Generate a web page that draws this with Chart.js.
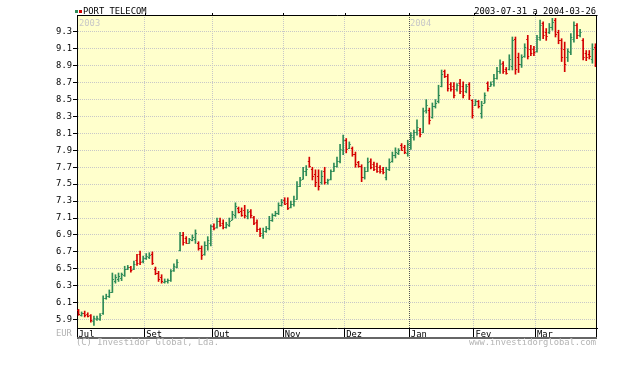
<!DOCTYPE html>
<html lang="pt">
<head>
<meta charset="utf-8">
<title>PORT TELECOM</title>
<script src="https://cdn.jsdelivr.net/npm/chart.js@4.4.1/dist/chart.umd.min.js"></script>
<style>
  html, body { margin: 0; padding: 0; background: #fff; }
  #wrap { position: relative; width: 626px; height: 377px; overflow: hidden; }
  #chart { position: absolute; left: 0; top: 0; }
  .txt { position: absolute; font-family: "DejaVu Sans Mono", monospace; font-size: 8.8px; line-height: 10px; white-space: nowrap; color: #000; }
  .grey { color: #b4b4b4; }
  .year { color: #c8c8c8; }
  .sq { position: absolute; width: 3px; height: 3px; }
</style>
</head>
<body>
<div id="wrap">
  <canvas id="chart" width="626" height="377"></canvas>
  <span class="sq" style="left:75px;top:10px;background:#2e8b57"></span>
  <span class="sq" style="left:79px;top:10px;background:#d40000"></span>
  <div class="txt" style="left:83px;top:6px">PORT TELECOM</div>
  <div class="txt" style="right:30px;top:6px">2003-07-31 a 2004-03-26</div>
  <div class="txt year" style="left:79px;top:18px">2003</div>
  <div class="txt year" style="left:410px;top:18px">2004</div>
  <div class="txt grey" style="left:56px;top:328px">EUR</div>
  <div class="txt grey" style="left:76px;top:337px">(C) Investidor Global, Lda.</div>
  <div class="txt grey" style="right:30px;top:337px">www.investidorglobal.com</div>
</div>
<script>
// trading days, 2003-07-31 .. 2004-03-26 (Euronext Lisbon)
const firstDay = '2003-07-31';
const lastDay = '2004-03-26';
const closedDays = ['2003-12-25', '2003-12-26', '2004-01-01'];

// month labels on the x axis (Aug label is hidden in the original)
const monthTickDates = ['2003-07-31', '2003-09-01', '2003-10-01', '2003-11-03', '2003-12-01', '2004-01-02', '2004-02-02', '2004-03-01'];
const monthTickLabels = ['Jul', 'Set', 'Out', 'Nov', 'Dez', 'Jan', 'Fev', 'Mar'];
const yearStartDate = '2004-01-02';

const yTickValues = [5.9, 6.1, 6.3, 6.5, 6.7, 6.9, 7.1, 7.3, 7.5, 7.7, 7.9, 8.1, 8.3, 8.5, 8.7, 8.9, 9.1, 9.3];

// daily prices (EUR)
const opens = [
  6.01, 5.95, 5.98, 5.97, 5.95, 5.88, 5.91, 5.91, 5.98, 6.15, 6.18, 6.22, 6.36, 6.38, 6.39, 6.43, 6.50, 6.52, 6.50, 6.60,
  6.68, 6.59, 6.63, 6.64, 6.67, 6.50, 6.45, 6.40, 6.34, 6.35, 6.37, 6.48, 6.52, 6.72, 6.90, 6.86, 6.81, 6.84, 6.85, 6.80,
  6.74, 6.68, 6.78, 6.80, 7.01, 6.99, 7.07, 7.04, 6.99, 7.02, 7.08, 7.14, 7.22, 7.18, 7.20, 7.12, 7.18, 7.11, 7.05, 6.97,
  6.90, 6.95, 6.98, 7.08, 7.13, 7.16, 7.25, 7.31, 7.28, 7.23, 7.27, 7.32, 7.48, 7.56, 7.65, 7.78, 7.68, 7.62, 7.60, 7.52,
  7.66, 7.52, 7.56, 7.66, 7.72, 7.78, 7.90, 8.02, 7.93, 7.93, 7.86, 7.76, 7.72, 7.58, 7.66, 7.78, 7.74, 7.72, 7.70, 7.68,
  7.58, 7.68, 7.78, 7.84, 7.87, 7.96, 7.94, 7.87, 7.96, 8.06, 8.12, 8.14, 8.12, 8.38, 8.38, 8.30, 8.42, 8.48, 8.66, 8.84,
  8.78, 8.68, 8.66, 8.62, 8.70, 8.66, 8.60, 8.68, 8.50, 8.44, 8.48, 8.34, 8.46, 8.70, 8.66, 8.72, 8.76, 8.84, 8.93, 8.86,
  8.86, 8.90, 9.22, 9.00, 8.92, 9.02, 9.22, 9.10, 9.10, 9.08, 9.24, 9.40, 9.30, 9.30, 9.36, 9.44, 9.30, 9.20, 9.10, 9.00,
  9.06, 9.22, 9.38, 9.26, 9.20, 9.05, 9.04, 8.98, 9.12
];
const highs = [
  6.02, 5.99, 6.00, 5.98, 5.96, 5.94, 5.94, 5.97, 6.18, 6.20, 6.25, 6.45, 6.43, 6.45, 6.45, 6.53, 6.54, 6.53, 6.59, 6.67,
  6.71, 6.65, 6.68, 6.69, 6.70, 6.52, 6.47, 6.43, 6.38, 6.38, 6.49, 6.56, 6.61, 6.93, 6.93, 6.88, 6.86, 6.90, 6.96, 6.82,
  6.77, 6.82, 6.88, 7.02, 7.03, 7.10, 7.10, 7.08, 7.05, 7.10, 7.18, 7.28, 7.23, 7.22, 7.25, 7.20, 7.20, 7.12, 7.08, 6.98,
  6.98, 7.00, 7.12, 7.15, 7.18, 7.28, 7.32, 7.34, 7.34, 7.30, 7.36, 7.53, 7.58, 7.70, 7.72, 7.82, 7.70, 7.67, 7.67, 7.66,
  7.70, 7.56, 7.67, 7.75, 7.82, 7.97, 8.08, 8.04, 8.00, 7.94, 7.88, 7.77, 7.73, 7.70, 7.81, 7.80, 7.76, 7.75, 7.72, 7.70,
  7.70, 7.80, 7.88, 7.93, 7.92, 7.98, 7.96, 8.02, 8.11, 8.14, 8.26, 8.16, 8.40, 8.50, 8.40, 8.46, 8.50, 8.67, 8.85, 8.85,
  8.80, 8.70, 8.70, 8.69, 8.74, 8.71, 8.68, 8.70, 8.50, 8.50, 8.49, 8.48, 8.58, 8.71, 8.71, 8.80, 8.88, 8.97, 8.95, 8.88,
  9.03, 9.24, 9.24, 9.05, 9.03, 9.16, 9.26, 9.14, 9.13, 9.26, 9.44, 9.42, 9.34, 9.40, 9.46, 9.46, 9.32, 9.22, 9.18, 9.10,
  9.28, 9.42, 9.40, 9.33, 9.22, 9.08, 9.08, 9.16, 9.16
];
const lows = [
  5.95, 5.94, 5.93, 5.93, 5.87, 5.83, 5.89, 5.89, 5.96, 6.14, 6.16, 6.22, 6.33, 6.35, 6.36, 6.41, 6.49, 6.46, 6.49, 6.54,
  6.55, 6.57, 6.61, 6.62, 6.55, 6.43, 6.35, 6.33, 6.33, 6.33, 6.35, 6.47, 6.51, 6.71, 6.78, 6.80, 6.80, 6.83, 6.80, 6.72,
  6.61, 6.66, 6.72, 6.77, 6.96, 6.98, 7.00, 6.97, 6.98, 7.00, 7.08, 7.10, 7.16, 7.12, 7.10, 7.09, 7.10, 7.02, 6.94, 6.88,
  6.86, 6.93, 6.96, 7.06, 7.12, 7.14, 7.24, 7.26, 7.20, 7.22, 7.24, 7.32, 7.47, 7.56, 7.60, 7.70, 7.55, 7.47, 7.43, 7.50,
  7.50, 7.50, 7.55, 7.65, 7.70, 7.75, 7.85, 7.87, 7.92, 7.83, 7.70, 7.70, 7.53, 7.56, 7.65, 7.68, 7.66, 7.64, 7.63, 7.62,
  7.55, 7.66, 7.76, 7.81, 7.85, 7.90, 7.86, 7.83, 7.91, 8.02, 8.08, 8.06, 8.11, 8.34, 8.21, 8.28, 8.40, 8.46, 8.65, 8.76,
  8.60, 8.60, 8.52, 8.60, 8.57, 8.52, 8.58, 8.50, 8.28, 8.43, 8.40, 8.28, 8.46, 8.60, 8.66, 8.66, 8.74, 8.81, 8.81, 8.80,
  8.85, 8.85, 8.80, 8.82, 8.88, 9.00, 8.98, 9.02, 9.02, 9.06, 9.20, 9.22, 9.20, 9.28, 9.32, 9.24, 9.16, 8.95, 8.83, 8.95,
  9.03, 9.18, 9.22, 9.24, 8.97, 8.96, 8.98, 8.93, 8.89
];
const closes = [
  5.97, 5.98, 5.95, 5.94, 5.89, 5.92, 5.92, 5.95, 6.15, 6.18, 6.22, 6.38, 6.40, 6.41, 6.44, 6.50, 6.52, 6.49, 6.56, 6.57,
  6.58, 6.63, 6.65, 6.66, 6.57, 6.45, 6.38, 6.36, 6.36, 6.37, 6.47, 6.53, 6.58, 6.90, 6.82, 6.81, 6.85, 6.88, 6.92, 6.74,
  6.66, 6.78, 6.84, 7.00, 6.98, 7.07, 7.02, 6.99, 7.03, 7.07, 7.15, 7.24, 7.17, 7.14, 7.13, 7.17, 7.13, 7.04, 6.97, 6.92,
  6.95, 6.98, 7.08, 7.13, 7.16, 7.25, 7.29, 7.27, 7.22, 7.27, 7.30, 7.48, 7.55, 7.65, 7.68, 7.72, 7.60, 7.52, 7.48, 7.60,
  7.53, 7.55, 7.65, 7.72, 7.78, 7.92, 8.02, 7.92, 7.98, 7.86, 7.74, 7.72, 7.58, 7.66, 7.76, 7.70, 7.68, 7.66, 7.65, 7.64,
  7.68, 7.76, 7.85, 7.88, 7.90, 7.91, 7.88, 7.98, 8.08, 8.12, 8.18, 8.09, 8.36, 8.44, 8.26, 8.42, 8.46, 8.56, 8.80, 8.78,
  8.64, 8.63, 8.56, 8.67, 8.60, 8.56, 8.66, 8.56, 8.32, 8.48, 8.42, 8.44, 8.55, 8.64, 8.69, 8.76, 8.84, 8.92, 8.84, 8.82,
  8.98, 9.20, 8.86, 8.92, 9.00, 9.12, 9.02, 9.05, 9.06, 9.22, 9.38, 9.26, 9.25, 9.36, 9.42, 9.28, 9.20, 9.00, 8.92, 9.08,
  9.24, 9.38, 9.26, 9.30, 9.00, 9.00, 9.02, 9.10, 8.90
];

const upColor = '#2e8b57';
const downColor = '#d40000';

function tradingDays(start, end, closed) {
  const out = [];
  const stop = new Date(end + 'T00:00:00Z');
  for (let d = new Date(start + 'T00:00:00Z'); d <= stop; d.setUTCDate(d.getUTCDate() + 1)) {
    const wd = d.getUTCDay();
    const s = d.toISOString().slice(0, 10);
    if (wd !== 0 && wd !== 6 && !closed.includes(s)) out.push(s);
  }
  return out;
}

const days = tradingDays(firstDay, lastDay, closedDays);
const tickLabelAt = {};
monthTickDates.forEach((d, k) => { tickLabelAt[days.indexOf(d)] = monthTickLabels[k]; });
const yearIdx = days.indexOf(yearStartDate);
const barColors = closes.map((c, i) => (c >= opens[i] ? upColor : downColor));

// yellow plot background
const plotBackground = {
  id: 'plotBackground',
  beforeDraw(chart) {
    const {ctx, chartArea: a} = chart;
    ctx.save();
    ctx.fillStyle = '#ffffcc';
    ctx.fillRect(a.left, a.top, a.right - a.left, a.bottom - a.top);
    ctx.restore();
  }
};

// open tick to the left, close tick to the right of each high-low bar
const ohlcTicks = {
  id: 'ohlcTicks',
  afterDatasetsDraw(chart) {
    const {ctx, scales: {x, y}} = chart;
    ctx.save();
    ctx.lineWidth = 1;
    for (let i = 0; i < closes.length; i++) {
      const px = x.getPixelForValue(i);
      const yo = Math.round(y.getPixelForValue(opens[i])) + 0.5;
      const yc = Math.round(y.getPixelForValue(closes[i])) + 0.5;
      ctx.strokeStyle = barColors[i];
      ctx.beginPath();
      ctx.moveTo(px - 1.5, yo); ctx.lineTo(px, yo);
      ctx.moveTo(px, yc); ctx.lineTo(px + 1.5, yc);
      ctx.stroke();
    }
    ctx.restore();
  }
};

// frame: top/right border, bottom of the month band, small marks above the plot
const frame = {
  id: 'frame',
  afterDraw(chart) {
    const {ctx, chartArea: a, scales: {x}} = chart;
    ctx.save();
    ctx.strokeStyle = '#000';
    ctx.lineWidth = 1;
    ctx.beginPath();
    ctx.moveTo(a.left, a.top + 0.5); ctx.lineTo(a.right + 0.5, a.top + 0.5);
    ctx.moveTo(a.right - 0.5, a.top); ctx.lineTo(a.right - 0.5, a.bottom + 10);
    ctx.stroke();
    ctx.fillStyle = '#666';
    ctx.fillRect(a.left, a.bottom + 9, a.right - a.left, 2);
    ctx.fillStyle = '#000';
    Object.keys(tickLabelAt).forEach((k) => {
      const gx = Math.round(x.getPixelForValue(+k) - (x.width / days.length) / 2);
      if (+k > 0) ctx.fillRect(gx, a.top - 2, 1, 2);
    });
    ctx.restore();
  }
};

const ctx = document.getElementById('chart').getContext('2d');
new Chart(ctx, {
  type: 'bar',
  data: {
    labels: days,
    datasets: [{
      label: 'PORT TELECOM',
      data: lows.map((l, i) => [l, highs[i]]),
      backgroundColor: barColors,
      borderWidth: 0,
      barThickness: 1
    }]
  },
  options: {
    responsive: false,
    animation: false,
    layout: { padding: { top: 15, right: 29, left: 0, bottom: 0 } },
    plugins: {
      legend: { display: false },
      tooltip: { enabled: false }
    },
    scales: {
      x: {
        afterFit: (s) => { s.height = 49; },
        grid: {
          offset: true,
          lineWidth: 1,
          tickLength: 10,
          color: (c) => {
            if (c.index === undefined || !(c.index in tickLabelAt) || c.index === 0) return 'rgba(0,0,0,0)';
            return c.index === yearIdx ? '#555' : '#c8c8c8';
          },
          tickColor: (c) => (c.index in tickLabelAt ? '#000' : 'rgba(0,0,0,0)')
        },
        border: { color: '#000', dash: [1, 1] },
        ticks: {
          autoSkip: false,
          maxRotation: 0,
          minRotation: 0,
          align: 'start',
          padding: -9,
          color: '#000',
          font: { family: 'DejaVu Sans Mono', size: 8.8 },
          callback: (v, i) => tickLabelAt[i] || ''
        }
      },
      y: {
        min: 5.8,
        max: 9.5,
        afterFit: (s) => { s.width = 77; },
        afterBuildTicks: (s) => { s.ticks = yTickValues.map((v) => ({ value: v })); },
        grid: { color: '#c8c8c8', tickColor: '#000', tickLength: 4 },
        border: { color: '#000', dash: [1, 1] },
        ticks: {
          padding: 1,
          color: '#000',
          font: { family: 'DejaVu Sans Mono', size: 8.8 },
          callback: (v) => Number(v).toFixed(1)
        }
      }
    }
  },
  plugins: [plotBackground, ohlcTicks, frame]
});
</script>
</body>
</html>
